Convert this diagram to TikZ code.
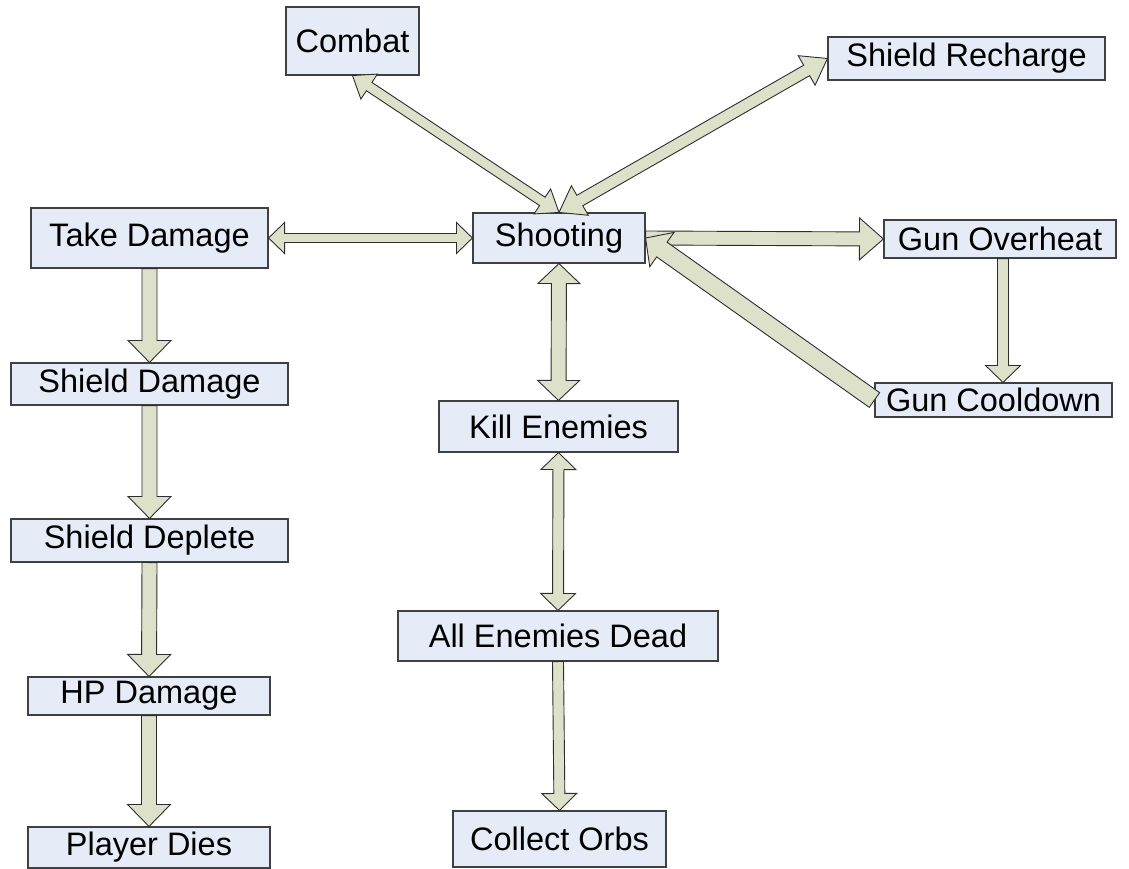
\documentclass[tikz,border=0pt]{standalone}
\usepackage{fontspec}
\setmainfont{Liberation Sans}
\usetikzlibrary{calc}
\definecolor{boxfill}{RGB}{230,235,248}
\definecolor{boxline}{RGB}{64,64,64}
\definecolor{arrfill}{RGB}{221,225,202}
\definecolor{arrline}{RGB}{45,45,45}
\tikzset{
  box/.style={draw=boxline, fill=boxfill, line width=1.1pt, inner sep=0pt,
    font=\fontsize{32.5}{38}\selectfont, text=black},
  blockarr/.style={draw=arrline, fill=arrfill, line width=0.9pt, line join=miter}
}
% single block arrow: #1 from, #2 to (tip), #3 half shaft, #4 half head, #5 head length
\newcommand{\sarr}[5]{%
  \coordinate (hB) at ($(#2)!#5!(#1)$);
  \draw[blockarr] ($(#1)!#3!90:(#2)$) -- ($(hB)!#3!90:(#2)$) -- ($(hB)!#4!90:(#2)$)
    -- (#2) -- ($(hB)!#4!-90:(#2)$) -- ($(hB)!#3!-90:(#2)$) -- ($(#1)!#3!-90:(#2)$) -- cycle;
}
% double block arrow
\newcommand{\darr}[5]{%
  \coordinate (tA) at ($(#1)!#5!(#2)$);
  \coordinate (hB) at ($(#2)!#5!(#1)$);
  \draw[blockarr] (#1) -- ($(tA)!#4!90:(#2)$) -- ($(tA)!#3!90:(#2)$) -- ($(hB)!#3!90:(#2)$)
    -- ($(hB)!#4!90:(#2)$) -- (#2) -- ($(hB)!#4!-90:(#2)$) -- ($(hB)!#3!-90:(#2)$)
    -- ($(tA)!#3!-90:(#2)$) -- ($(tA)!#4!-90:(#2)$) -- cycle;
}
\begin{document}
\begin{tikzpicture}[x=1pt,y=-1pt]
\useasboundingbox (0,0) rectangle (1129,869);
\node[box, minimum width=133pt, minimum height=68pt] (combat) at (352.5,41) {Combat};
\node[box, minimum width=277pt, minimum height=43pt] (recharge) at (966.5,58.5) {Shield Recharge};
\node[box, minimum width=237pt, minimum height=60pt] (take) at (149.5,238) {Take Damage};
\node[box, minimum width=172pt, minimum height=50pt] (shoot) at (559,238) {Shooting};
\node[box, minimum width=232pt, minimum height=38pt] (over) at (1000,239) {Gun Overheat};
\node[box, minimum width=237pt, minimum height=34pt] (cool) at (993.5,400) {Gun Cooldown};
\node[box, minimum width=277pt, minimum height=42pt] (sdam) at (149.5,384) {Shield Damage};
\node[box, minimum width=277pt, minimum height=43pt] (sdep) at (149.5,540.5) {Shield Deplete};
\node[box, minimum width=242pt, minimum height=38pt] (hp) at (149,696) {HP Damage};
\node[box, minimum width=242pt, minimum height=41pt] (dies) at (149,847.5) {Player Dies};
\node[box, minimum width=239pt, minimum height=51pt] (kill) at (558.5,426.5) {Kill Enemies};
\node[box, minimum width=320pt, minimum height=50pt] (dead) at (558,636) {All Enemies Dead};
\node[box, minimum width=213pt, minimum height=56pt] (orbs) at (559.5,839) {Collect Orbs};

\coordinate (overS) at ($(over.south)+(3,0)$);
\coordinate (coolN) at (overS |- cool.north);

\darr{combat.south}{shoot.north}{5pt}{15pt}{20pt}
\darr{recharge.west}{shoot.north}{6pt}{17pt}{24pt}
\darr{take.east}{shoot.west}{4.5pt}{15.5pt}{16pt}
\sarr{shoot.east}{over.west}{7pt}{21pt}{24pt}
\sarr{overS}{coolN}{5.5pt}{17.5pt}{17pt}
\sarr{cool.west}{shoot.east}{9pt}{21pt}{20pt}
\darr{shoot.south}{kill.north}{7.5pt}{21pt}{20pt}
\darr{kill.south}{dead.north}{5.5pt}{17.5pt}{17pt}
\sarr{dead.south}{orbs.north}{5.5pt}{17.5pt}{17pt}
\sarr{take.south}{sdam.north}{7.5pt}{21.5pt}{22pt}
\sarr{sdam.south}{sdep.north}{7.5pt}{21.5pt}{22pt}
\sarr{sdep.south}{hp.north}{7.5pt}{21.5pt}{22pt}
\sarr{hp.south}{dies.north}{7.5pt}{21.5pt}{22pt}
\end{tikzpicture}
\end{document}
